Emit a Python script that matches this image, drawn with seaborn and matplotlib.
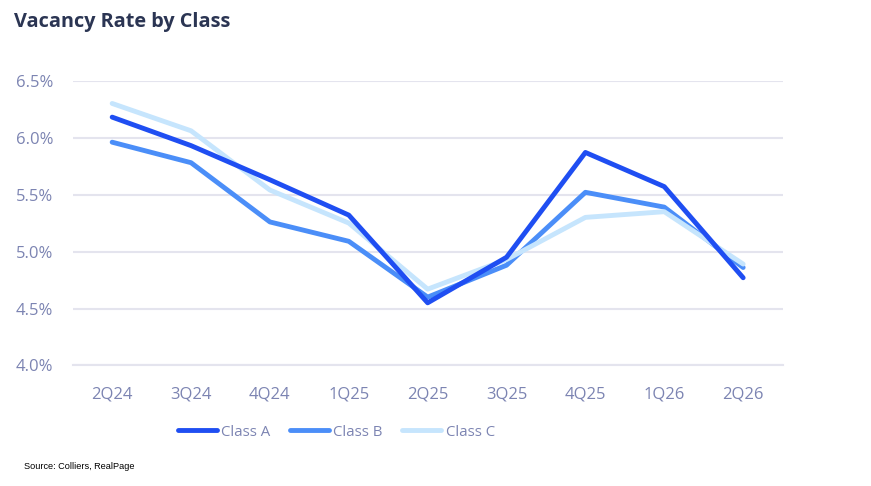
import numpy as np
import pandas as pd
import matplotlib
matplotlib.use("Agg")
import matplotlib.pyplot as plt
from matplotlib.lines import Line2D
import seaborn as sns

quarters = ["2Q24", "3Q24", "4Q24", "1Q25", "2Q25", "3Q25", "4Q25", "1Q26", "2Q26"]
class_a = [6.18, 5.93, 5.63, 5.32, 4.55, 4.95, 5.87, 5.57, 4.77]
class_b = [5.96, 5.78, 5.26, 5.09, 4.60, 4.88, 5.52, 5.39, 4.86]
class_c = [6.30, 6.06, 5.54, 5.25, 4.67, 4.93, 5.30, 5.35, 4.89]
series_names = ["Class A", "Class B", "Class C"]
colors = ["#1f4ef2", "#4b8ef8", "#c6e5fd"]

df = pd.DataFrame({"quarter": quarters, "Class A": class_a,
                   "Class B": class_b, "Class C": class_c})
long_df = df.melt(id_vars="quarter", var_name="series", value_name="rate")

sns.set_style("white")
plt.rcParams['font.family'] = ['Open Sans', 'DejaVu Sans']

tick_color = "#7c84b2"
grid_color = "#e4e4ee"

fig = plt.figure(figsize=(8.71, 4.86), dpi=100)
ax = fig.add_axes([0.0835, 0.248, 0.815, 0.586])

sns.lineplot(data=long_df, x="quarter", y="rate", hue="series",
             hue_order=series_names, palette=colors, linewidth=3.5,
             sort=False, ax=ax, legend=False)
# A on top, then C, then B
for line, z in zip(ax.get_lines(), [5, 3, 4]):
    line.set_zorder(z)
    line.set_solid_capstyle("round")

ax.set_xlim(-0.5, len(quarters) - 0.5)
ax.set_ylim(4.0, 6.5)
ax.set_yticks([4.0, 4.5, 5.0, 5.5, 6.0, 6.5])
ax.set_yticklabels([f"{v:.1f}%" for v in [4.0, 4.5, 5.0, 5.5, 6.0, 6.5]])
ax.yaxis.grid(True, color=grid_color, linewidth=1.5)
ax.set_axisbelow(True)

ax.set_xticks(range(len(quarters)))
ax.set_xticklabels(quarters)
ax.set_xticks(np.arange(-0.5, len(quarters)), minor=True)
ax.tick_params(axis="x", which="major", length=0, pad=15, labelsize=12,
               labelcolor=tick_color)
ax.tick_params(axis="x", which="minor", length=5, width=1.2, color=grid_color)
ax.tick_params(axis="y", length=0, pad=14, labelsize=12, labelcolor=tick_color)

for side in ["top", "right", "left"]:
    ax.spines[side].set_visible(False)
ax.spines["bottom"].set_color(grid_color)
ax.spines["bottom"].set_linewidth(1.5)
ax.set_xlabel("")
ax.set_ylabel("")

handles = [Line2D([0], [0], color=c, linewidth=3.5, solid_capstyle="round")
           for c in colors]
fig.legend(handles, series_names, loc="center", bbox_to_anchor=(0.386, 0.111),
           ncol=3, frameon=False, fontsize=10.8, labelcolor=tick_color,
           handlelength=2.6, handletextpad=0.3, columnspacing=1.3)

fig.text(0.016, 0.955, "Vacancy Rate by Class", fontsize=14.3,
         fontweight="bold", color="#2b3553", ha="left", va="center")
fig.text(0.027, 0.040, "Source: Colliers, RealPage", fontsize=6.6,
         color="black", ha="left", va="center", family="Liberation Sans")

fig.savefig("out.png", dpi=100)
